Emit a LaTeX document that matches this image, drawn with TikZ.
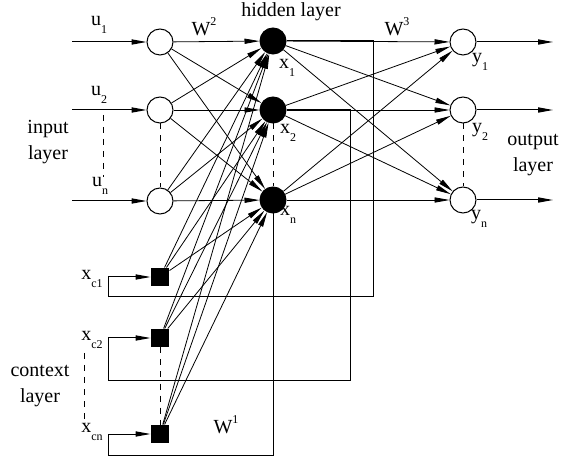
\documentclass[tikz,border=0pt]{standalone}
\usepackage{fontspec}
\setmainfont{Liberation Serif}
\usepackage{tikz}
\usetikzlibrary{arrows.meta}
\newcommand{\idx}[1]{\raisebox{-0.8ex}{\fontsize{6}{7}\selectfont #1}}
\newcommand{\pow}[1]{\raisebox{1.1ex}{\fontsize{6}{7}\selectfont #1}}

\begin{document}
\begin{tikzpicture}[
    x=0.5pt, y=-0.5pt,
    font=\fontsize{10}{12}\selectfont,
    >={Triangle[length=7.5pt,width=2.6pt]},
    line width=0.5pt,
    % Styles
    unit/.style={circle, draw=black, line width=0.5pt, minimum size=13pt, inner sep=0pt},
    in_unit/.style={unit, fill=white},
    hid_unit/.style={unit, fill=black},
    ctx_unit/.style={rectangle, fill=black, minimum size=9pt, inner sep=0pt},
    lbl/.style={inner sep=1pt},
    layer_lbl/.style={align=center, inner sep=0pt, font=\fontsize{10}{13}\selectfont}
]
    \useasboundingbox (0,0) rectangle (567,459);

    % 1. INPUT LAYER
    \node[in_unit] (u1) at (160,42) {};
    \node[in_unit] (u2) at (160,110) {};
    \node[in_unit] (un) at (160,201) {};
    \coordinate (su1) at (72,42);
    \coordinate (su2) at (72,110);
    \coordinate (sun) at (72,201);
    \draw[->] (su1) -- (u1);
    \draw[->] (su2) -- (u2);
    \draw[->] (sun) -- (un);
    \node[lbl] (lu1) at (99,25) {u\idx{1}};
    \node[lbl] (lu2) at (99,95) {u\idx{2}};
    \node[lbl] (lun) at (100,186) {u\idx{n}};
    \node[layer_lbl] (linput) at (48,142) {input\\layer};
    \coordinate (du2) at (103,115);
    \coordinate (dun) at (103,177);
    \draw[dashed] (du2) -- (dun);
    \draw[dashed] (u2) -- (un);

    % 2. HIDDEN LAYER
    \node[hid_unit] (x1) at (273,41) {};
    \node[hid_unit] (x2) at (273,110) {};
    \node[hid_unit] (xn) at (273,200) {};
    \node[lbl] (lx1) at (287,68) {x\idx{1}};
    \node[lbl] (lx2) at (288,133) {x\idx{2}};
    \node[lbl] (lxn) at (288,215) {x\idx{n}};
    \node[lbl] (lhidden) at (291,12) {hidden layer};
    \draw[dashed] (x2) -- (xn);

    % 3. OUTPUT LAYER
    \node[in_unit] (y1) at (463,42) {};
    \node[in_unit] (y2) at (463,110) {};
    \node[in_unit] (yn) at (463,200) {};
    \coordinate (ey1) at (553,42);
    \coordinate (ey2) at (553,110);
    \coordinate (eyn) at (553,200);
    \draw[->] (y1) -- (ey1);
    \draw[->] (y2) -- (ey2);
    \draw[->] (yn) -- (eyn);
    \node[lbl] (ly1) at (480,62) {y\idx{1}};
    \node[lbl] (ly2) at (480,132) {y\idx{2}};
    \node[lbl] (lyn) at (479,219) {y\idx{n}};
    \node[layer_lbl] (loutput) at (533,155) {output\\layer};
    \draw[dashed] (y2) -- (yn);

    % 4. CONTEXT LAYER
    \node[ctx_unit] (c1) at (160,277) {};
    \node[ctx_unit] (c2) at (160,338) {};
    \node[ctx_unit] (cn) at (160,434) {};
    \node[lbl] (lc1) at (92,279) {x\idx{c1}};
    \node[lbl] (lc2) at (92,340) {x\idx{c2}};
    \node[lbl] (lcn) at (92,432) {x\idx{cn}};
    \node[layer_lbl] (lcontext) at (40,386) {context\\layer};
    \coordinate (dc2) at (84,353);
    \coordinate (dcn) at (84,423);
    \draw[dashed] (dc2) -- (dcn);
    \draw[dashed] (c2) -- (cn);

    % Weights
    \node[lbl] (w2) at (204,27) {W\pow{2}};
    \node[lbl] (w3) at (397,27) {W\pow{3}};
    \node[lbl] (w1) at (226,425) {W\pow{1}};

    % 5. FULL CONNECTIONS
    \foreach \src in {u1,u2,un,c1,c2,cn}
        \foreach \dst in {x1,x2,xn}
            \draw[->, line width=0.4pt] (\src) -- (\dst);
    \foreach \src in {x1,x2,xn}
        \foreach \dst in {y1,y2,yn}
            \draw[->, line width=0.4pt] (\src) -- (\dst);

    % 6. FEEDBACK TO CONTEXT
    \coordinate (fb1) at (373,297);
    \coordinate (fb1l) at (108,297);
    \coordinate (fb2) at (350,380);
    \coordinate (fb2l) at (108,380);
    \coordinate (fbnl) at (108,455);
    \draw[->] (x1.east) -| (fb1) -- (fb1l) |- (c1.west);
    \draw[->] (x2.east) -| (fb2) -- (fb2l) |- (c2.west);
    \draw[->] (xn.south) |- (fbnl) |- (cn.west);

\end{tikzpicture}
\end{document}
